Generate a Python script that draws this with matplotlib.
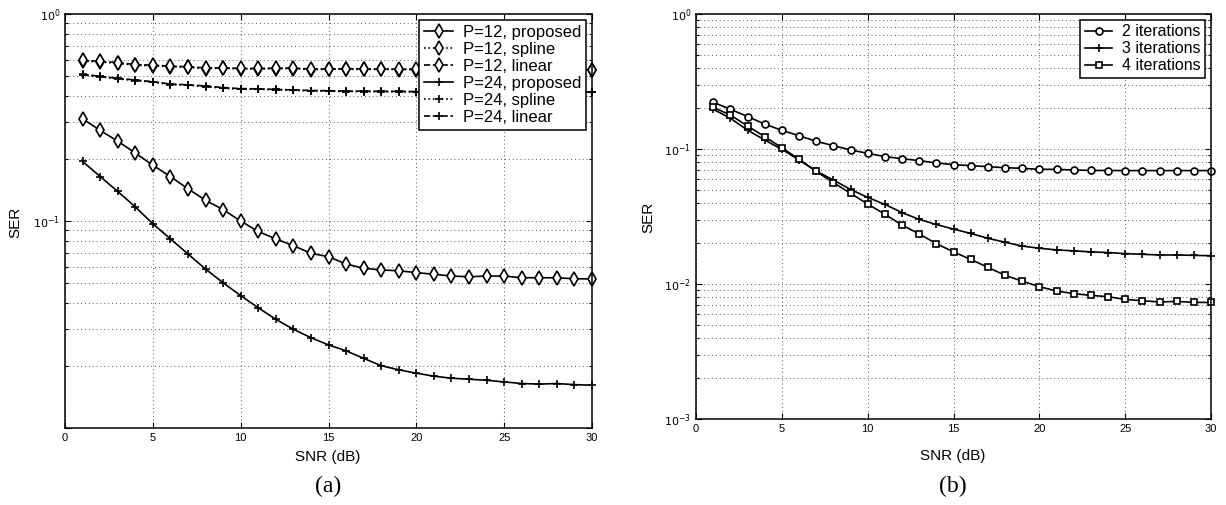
import numpy as np
import matplotlib
matplotlib.use("Agg")
import matplotlib.pyplot as plt
from matplotlib.ticker import LogLocator, FuncFormatter, NullFormatter

# SNR axis shared by both panels
snr = np.arange(1, 31)

# panel (a): SER vs SNR for P=12 and P=24
p12_proposed = [0.312, 0.274, 0.243, 0.213, 0.186, 0.164, 0.143, 0.126, 0.1135, 0.100,
                0.089, 0.0819, 0.076, 0.0698, 0.0672, 0.0620, 0.0591, 0.0580, 0.0575, 0.0563,
                0.0553, 0.0542, 0.0538, 0.0542, 0.0542, 0.0532, 0.0532, 0.0532, 0.0526, 0.0525]
p12_spline = [0.593, 0.587, 0.578, 0.566, 0.561, 0.557, 0.553, 0.545, 0.547, 0.543,
              0.543, 0.545, 0.545, 0.539, 0.541, 0.541, 0.540, 0.540, 0.539, 0.539,
              0.540, 0.539, 0.538, 0.538, 0.539, 0.538, 0.538, 0.537, 0.537, 0.537]
p12_linear = [0.598, 0.590, 0.582, 0.570, 0.566, 0.560, 0.556, 0.549, 0.549, 0.546,
              0.546, 0.547, 0.548, 0.542, 0.543, 0.544, 0.543, 0.542, 0.542, 0.541,
              0.542, 0.541, 0.541, 0.540, 0.541, 0.540, 0.540, 0.540, 0.539, 0.539]
p24_proposed = [0.194, 0.164, 0.139, 0.117, 0.097, 0.082, 0.0693, 0.0586, 0.0503, 0.0436,
                0.0381, 0.0335, 0.0300, 0.0273, 0.0252, 0.0236, 0.0217, 0.0200, 0.0191, 0.0184,
                0.0178, 0.0174, 0.0172, 0.0170, 0.0167, 0.0164, 0.0163, 0.0164, 0.0162, 0.0161]
p24_spline = [0.508, 0.497, 0.486, 0.477, 0.468, 0.456, 0.453, 0.446, 0.438, 0.433,
              0.433, 0.430, 0.428, 0.425, 0.424, 0.422, 0.422, 0.421, 0.421, 0.420,
              0.420, 0.420, 0.419, 0.419, 0.419, 0.418, 0.418, 0.418, 0.418, 0.418]
p24_linear = [0.511, 0.500, 0.489, 0.480, 0.471, 0.459, 0.455, 0.449, 0.441, 0.436,
              0.435, 0.432, 0.430, 0.427, 0.426, 0.424, 0.424, 0.423, 0.423, 0.422,
              0.422, 0.422, 0.421, 0.421, 0.421, 0.420, 0.420, 0.420, 0.420, 0.420]

# panel (b): SER vs SNR for different iteration counts
iter2 = [0.222, 0.197, 0.174, 0.153, 0.1375, 0.1255, 0.114, 0.1059, 0.0984, 0.0929,
         0.0878, 0.0848, 0.0820, 0.0788, 0.0766, 0.0753, 0.0740, 0.0727, 0.0719, 0.0707,
         0.0707, 0.0699, 0.0694, 0.0693, 0.0692, 0.0692, 0.0692, 0.0692, 0.0692, 0.0692]
iter3 = [0.197, 0.169, 0.138, 0.1166, 0.0995, 0.083, 0.0687, 0.0589, 0.0502, 0.0438,
         0.0389, 0.0338, 0.0301, 0.0276, 0.0255, 0.0237, 0.0218, 0.0204, 0.0191, 0.0184,
         0.0179, 0.0176, 0.0173, 0.0171, 0.0168, 0.0166, 0.0164, 0.0164, 0.0163, 0.0162]
iter4 = [0.2036, 0.1786, 0.148, 0.1234, 0.1023, 0.0838, 0.0684, 0.0563, 0.0470, 0.0391,
         0.0329, 0.0273, 0.0235, 0.0199, 0.0173, 0.0152, 0.0133, 0.0116, 0.0105, 0.00955,
         0.00888, 0.00848, 0.00824, 0.00805, 0.00769, 0.00752, 0.00736, 0.00743, 0.00731, 0.0073]

plt.rcParams['font.family'] = ['Liberation Sans', 'DejaVu Sans']

W, H = 1226, 505
fig = plt.figure(figsize=(W / 100, H / 100), dpi=100)


def px_axes(left, top, right, bottom):
    return fig.add_axes([left / W, 1 - bottom / H, (right - left) / W, (bottom - top) / H])


def style_axes(ax, ymin, hide=()):
    ax.set_yscale('log')
    ax.set_xlim(0, 30)
    ax.set_ylim(ymin, 1)
    ax.set_xticks(np.arange(0, 31, 5))
    ax.yaxis.set_major_locator(LogLocator(base=10, numticks=10))
    ax.yaxis.set_minor_locator(LogLocator(base=10, subs=np.arange(2, 10), numticks=10))
    ax.yaxis.set_minor_formatter(NullFormatter())

    def fmt(v, pos):
        if any(np.isclose(v, h) for h in hide):
            return ''
        return r'$10^{%d}$' % int(round(np.log10(v)))
    ax.yaxis.set_major_formatter(FuncFormatter(fmt))
    ax.tick_params(which='both', direction='in', top=True, right=True,
                   labelsize=8, colors='black', width=0.8)
    ax.tick_params(which='major', length=4)
    ax.tick_params(which='minor', length=2.5)
    grid_kw = dict(linestyle=(0, (1, 3)), color='0.35', linewidth=0.7)
    ax.grid(True, which='major', **grid_kw)
    ax.grid(True, which='minor', axis='y', **grid_kw)
    for s in ax.spines.values():
        s.set_linewidth(1.1)


kw = dict(color='black', linewidth=1.2, markerfacecolor='white',
          markeredgewidth=1.2, clip_on=False)
leg_kw = dict(loc='upper right', fancybox=False, framealpha=1, edgecolor='black',
              borderaxespad=0.35, labelspacing=0.12, handlelength=1.7,
              handletextpad=0.6, borderpad=0.3)

# ---- panel (a)
ax1 = px_axes(65, 14, 592, 428)
style_axes(ax1, 1e-2, hide=(1e-2,))
ax1.plot(snr, p12_proposed, '-', marker='d', markersize=7, label='P=12, proposed', **kw)
ax1.plot(snr, p12_spline, ':', marker='d', markersize=7, label='P=12, spline', **kw)
ax1.plot(snr, p12_linear, '--', marker='d', markersize=7, label='P=12, linear', **kw)
ax1.plot(snr, p24_proposed, '-', marker='+', markersize=6, label='P=24, proposed', **kw)
ax1.plot(snr, p24_spline, ':', marker='+', markersize=6, label='P=24, spline', **kw)
ax1.plot(snr, p24_linear, '--', marker='+', markersize=6, label='P=24, linear', **kw)
leg1 = ax1.legend(fontsize=12, **leg_kw)
leg1.get_frame().set_linewidth(1.1)

# ---- panel (b)
ax2 = px_axes(696, 14, 1211, 419)
style_axes(ax2, 1e-3)
ax2.plot(snr, iter2, '-', marker='o', markersize=5, label='2 iterations', **kw)
ax2.plot(snr, iter3, '-', marker='+', markersize=6, label='3 iterations', **kw)
ax2.plot(snr, iter4, '-', marker='s', markersize=4.5, label='4 iterations', **kw)
leg2 = ax2.legend(fontsize=11.5, **leg_kw)
leg2.get_frame().set_linewidth(1.1)


# axis labels and panel captions in pixel positions
def ftext(x, y, s, **k):
    fig.text(x / W, 1 - y / H, s, ha='center', va='center', **k)


ftext(15, 222, 'SER', rotation=90, fontsize=11)
ftext(648, 217, 'SER', rotation=90, fontsize=11)
ftext(328, 457, 'SNR (dB)', fontsize=11)
ftext(953, 456, 'SNR (dB)', fontsize=11)
ftext(328, 486, '(a)', fontsize=17, family='Liberation Serif')
ftext(953, 486, '(b)', fontsize=17, family='Liberation Serif')

fig.savefig('out.png', dpi=100)
